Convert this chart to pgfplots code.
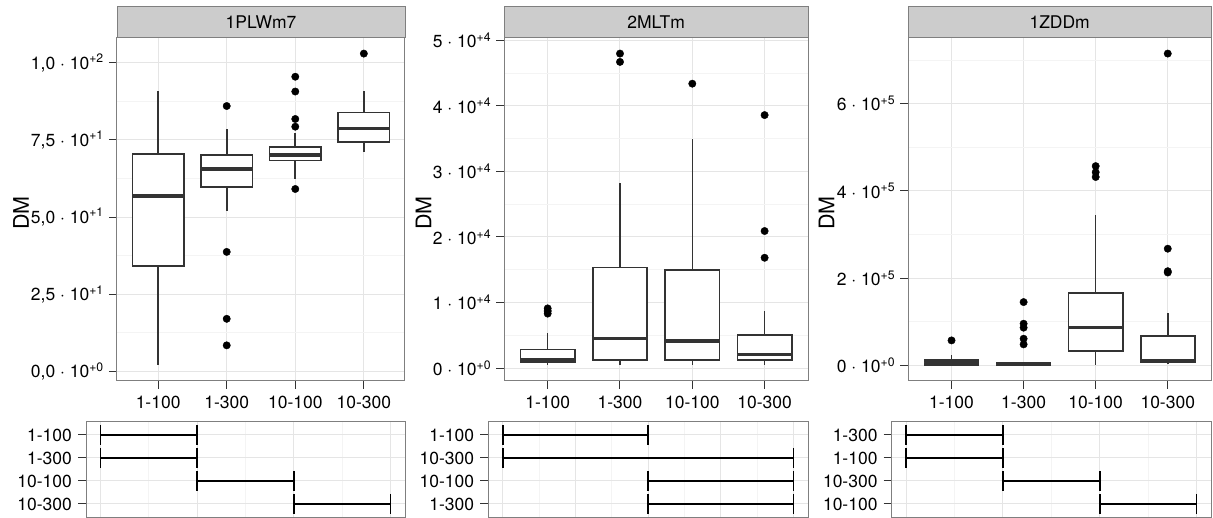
\documentclass[border=0pt]{standalone}
\usepackage{fontspec}
\setmainfont{TeX Gyre Heros}
\usepackage{pgfplots}
\pgfplotsset{compat=1.18}
\usepgfplotslibrary{statistics}

\definecolor{frame}{HTML}{7F7F7F}
\definecolor{stripfill}{HTML}{CCCCCC}
\definecolor{gridmaj}{HTML}{E5E5E5}
\definecolor{gridmin}{HTML}{F4F4F4}
\definecolor{boxline}{HTML}{333333}

\newcommand\ticksize{\fontsize{17.5}{21}\selectfont}
\newcommand\labsize{\fontsize{21.5}{25}\selectfont}
\newcommand\sci[2]{#1 · 10\textsuperscript{#2}}

\pgfplotsset{
  panel/.style={
    scale only axis,
    anchor=south west,
    axis line style={frame, line width=1pt},
    tick align=outside,
    major tick length=8pt,
    minor tick length=0pt,
    tick style={boxline, line width=1pt},
    xtick pos=lower, ytick pos=left,
    major grid style={gridmaj, line width=1pt},
    minor grid style={gridmin, line width=0.8pt},
    tick label style={font=\ticksize},
    clip=false,
  },
  upper/.style={
    panel,
    height=343pt,
    xmin=0.4, xmax=4.6,
    xtick={1,2,3,4},
    xticklabels={1-100,1-300,10-100,10-300},
    xmajorgrids, ymajorgrids, yminorgrids,
    xticklabel style={yshift=-4pt},
    yticklabel style={anchor=east, inner sep=0pt, xshift=-5pt},
    ylabel={DM},
    ylabel style={font=\labsize, anchor=center},
    boxplot/draw direction=y,
    boxplot/box extend=0.75,
    boxplot/whisker extend=0,
    boxplot/every median/.style={line width=3.2pt},
  },
  lower/.style={
    panel,
    height=96.6pt,
    ymin=0.4, ymax=4.6,
    ytick={1,2,3,4},
    xticklabels={},
    xtick style={draw=none},
    xmajorgrids, xminorgrids, ymajorgrids,
    yticklabel style={anchor=east, inner sep=0pt, xshift=-6pt},
  },
  bx/.style={boxline, line width=1.6pt, fill=white, solid},
  out/.style={only marks, mark=*, mark size=3.7pt, black},
  rng/.style={black, line width=1.8pt, mark=|, mark size=10pt, mark options={line width=1.8pt}},
}

\begin{document}
\begin{tikzpicture}
\useasboundingbox (0,0) rectangle (1213pt,518pt);

% ---------- 1PLWm7 (DM) ----------
\begin{axis}[upper, at={(117pt,137pt)}, width=288pt,
  ymin=-3.16, ymax=108.06,
  ytick={0,25,50,75,100},
  minor ytick={12.5,37.5,62.5,87.5},
  yticklabels={\sci{0,0}{+0},\sci{2,5}{+1},\sci{5,0}{+1},\sci{7,5}{+1},\sci{1,0}{+2}},
  ylabel style={at={([xshift=-96pt]axis description cs:0,0.49)}},
]
\addplot[bx, boxplot prepared={draw position=1, lower whisker=1.9, lower quartile=34.2, median=56.8, upper quartile=70.5, upper whisker=91.0}] coordinates {};
\addplot[bx, boxplot prepared={draw position=2, lower whisker=52.1, lower quartile=59.8, median=65.6, upper quartile=70.1, upper whisker=78.5}] coordinates {};
\addplot[bx, boxplot prepared={draw position=3, lower whisker=62.3, lower quartile=68.3, median=70.1, upper quartile=72.8, upper whisker=77.2}] coordinates {};
\addplot[bx, boxplot prepared={draw position=4, lower whisker=71.2, lower quartile=74.4, median=78.7, upper quartile=83.9, upper whisker=91.0}] coordinates {};
\addplot[out] coordinates {(2,86.0) (2,38.7) (2,17.0) (2,8.4)
  (3,95.5) (3,90.7) (3,81.8) (3,79.3) (3,59.1) (4,103.0)};
\end{axis}
\draw[frame, line width=1pt, fill=stripfill] (117pt,480pt) rectangle (405pt,511pt);
\node[font=\ticksize] at (261pt,495.5pt) {1PLWm7};

% ---------- 2MLTm (DM in units of 10^4) ----------
\begin{axis}[upper, at={(504.3pt,137pt)}, width=303.7pt,
  ymin=-0.1978, ymax=5.035,
  ytick={0,1,2,3,4,5},
  minor ytick={0.5,1.5,2.5,3.5,4.5},
  yticklabels={\sci{0}{+0},\sci{1}{+4},\sci{2}{+4},\sci{3}{+4},\sci{4}{+4},\sci{5}{+4}},
  ylabel style={at={([xshift=-80.8pt]axis description cs:0,0.49)}},
]
\addplot[bx, boxplot prepared={draw position=1, lower whisker=0.041, lower quartile=0.092, median=0.133, upper quartile=0.281, upper whisker=0.535}] coordinates {};
\addplot[bx, boxplot prepared={draw position=2, lower whisker=0.040, lower quartile=0.118, median=0.454, upper quartile=1.535, upper whisker=2.820}] coordinates {};
\addplot[bx, boxplot prepared={draw position=3, lower whisker=0.040, lower quartile=0.118, median=0.413, upper quartile=1.494, upper whisker=3.497}] coordinates {};
\addplot[bx, boxplot prepared={draw position=4, lower whisker=0.040, lower quartile=0.118, median=0.205, upper quartile=0.500, upper whisker=0.867}] coordinates {};
\addplot[out] coordinates {(1,0.910) (1,0.870) (1,0.830)
  (2,4.797) (2,4.670) (3,4.338) (4,3.859) (4,2.090) (4,1.682)};
\end{axis}
\draw[frame, line width=1pt, fill=stripfill] (504.3pt,480pt) rectangle (808pt,511pt);
\node[font=\ticksize] at (656.15pt,495.5pt) {2MLTm};

% ---------- 1ZDDm (DM in units of 10^5) ----------
\begin{axis}[upper, at={(908.3pt,137pt)}, width=302.7pt,
  ymin=-0.3575, ymax=7.5075,
  ytick={0,2,4,6},
  minor ytick={1,3,5,7},
  yticklabels={\sci{0}{+0},\sci{2}{+5},\sci{4}{+5},\sci{6}{+5}},
  ylabel style={at={([xshift=-81.8pt]axis description cs:0,0.49)}},
]
\addplot[bx, boxplot prepared={draw position=1, lower whisker=0, lower quartile=0.016, median=0.060, upper quartile=0.120, upper whisker=0.229}] coordinates {};
\addplot[bx, boxplot prepared={draw position=2, lower whisker=0, lower quartile=0.006, median=0.030, upper quartile=0.069, upper whisker=0.080}] coordinates {};
\addplot[bx, boxplot prepared={draw position=3, lower whisker=0.015, lower quartile=0.328, median=0.865, upper quartile=1.658, upper whisker=3.440}] coordinates {};
\addplot[bx, boxplot prepared={draw position=4, lower whisker=0.023, lower quartile=0.076, median=0.115, upper quartile=0.672, upper whisker=1.200}] coordinates {};
\addplot[out] coordinates {(1,0.573)
  (2,1.452) (2,0.956) (2,0.865) (2,0.612) (2,0.482)
  (3,4.570) (3,4.430) (3,4.320)
  (4,7.150) (4,2.676) (4,2.160) (4,2.130)};
\end{axis}
\draw[frame, line width=1pt, fill=stripfill] (908.3pt,480pt) rectangle (1211pt,511pt);
\node[font=\ticksize] at (1059.65pt,495.5pt) {1ZDDm};

% ---------- pairwise group ranges ----------
\begin{axis}[lower, at={(86pt,0.2pt)}, width=319pt,
  xmin=0.85, xmax=4.15,
  xtick={1,2,3,4}, minor xtick={1.5,2.5,3.5},
  yticklabels={10-300,10-100,1-300,1-100},
]
\addplot[rng] coordinates {(1,4) (2,4)};
\addplot[rng] coordinates {(1,3) (2,3)};
\addplot[rng] coordinates {(2,2) (3,2)};
\addplot[rng] coordinates {(3,1) (4,1)};
\end{axis}

\begin{axis}[lower, at={(488.3pt,0.2pt)}, width=319.7pt,
  xmin=0.9, xmax=3.1,
  xtick={1,1.5,2,2.5,3}, minor xtick={1.25,1.75,2.25,2.75},
  yticklabels={1-300,10-100,10-300,1-100},
]
\addplot[rng] coordinates {(1,4) (2,4)};
\addplot[rng] coordinates {(1,3) (3,3)};
\addplot[rng] coordinates {(2,2) (3,2)};
\addplot[rng] coordinates {(2,1) (3,1)};
\end{axis}

\begin{axis}[lower, at={(891.7pt,0.2pt)}, width=319.3pt,
  xmin=0.85, xmax=4.15,
  xtick={1,2,3,4}, minor xtick={1.5,2.5,3.5},
  yticklabels={10-100,10-300,1-100,1-300},
]
\addplot[rng] coordinates {(1,4) (2,4)};
\addplot[rng] coordinates {(1,3) (2,3)};
\addplot[rng] coordinates {(2,2) (3,2)};
\addplot[rng] coordinates {(3,1) (4,1)};
\end{axis}
\end{tikzpicture}
\end{document}
